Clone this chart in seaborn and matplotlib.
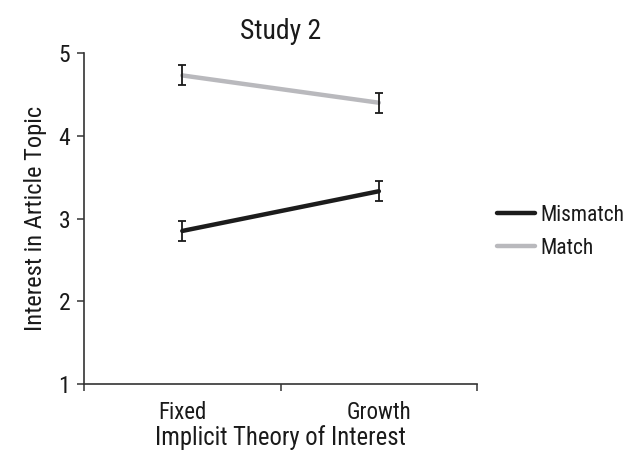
import matplotlib
matplotlib.use("Agg")
import matplotlib.pyplot as plt
import seaborn as sns
import pandas as pd

# values
theories = ["Fixed", "Growth"]
conditions = ["Mismatch", "Match"]
mismatch_means = [2.85, 3.33]
match_means = [4.73, 4.40]
mismatch_se = [0.12, 0.12]
match_se = [0.12, 0.12]

colors = {"Mismatch": "#1c1c1c", "Match": "#b9b9bd"}

df = pd.DataFrame({
    "theory": theories * 2,
    "condition": ["Mismatch"] * 2 + ["Match"] * 2,
    "interest": mismatch_means + match_means,
    "se": mismatch_se + match_se,
})

sns.set_style("ticks")
plt.rcParams["font.family"] = ["Roboto Condensed", "Liberation Sans Narrow", "Roboto", "DejaVu Sans"]
plt.rcParams["text.color"] = "#1a1a1a"
plt.rcParams["axes.labelcolor"] = "#1a1a1a"
plt.rcParams["xtick.labelcolor"] = "#1a1a1a"
plt.rcParams["ytick.labelcolor"] = "#1a1a1a"

fig = plt.figure(figsize=(6.27, 4.58), dpi=100)
ax = fig.add_axes([0.134, 0.1616, 0.627, 0.7225])

sns.lineplot(data=df, x="theory", y="interest", hue="condition",
             hue_order=conditions, palette=colors, linewidth=3.2,
             sort=False, ax=ax, legend=True)

# error bars drawn on the same categorical positions
for cond in conditions:
    sub = df[df["condition"] == cond]
    ax.errorbar(range(len(sub)), sub["interest"], yerr=sub["se"],
                fmt="none", ecolor="#1a1a1a", elinewidth=1.3,
                capsize=3, capthick=1.3, zorder=5)

ax.set_xlim(-0.5, 1.5)
ax.set_ylim(1, 5)
ax.set_yticks([1, 2, 3, 4, 5])
ax.set_xticks([-0.5, 0.5, 1.5])
ax.set_xticklabels([])
ax.set_xticks([0, 1], minor=True)
ax.set_xticklabels(theories, minor=True)
ax.tick_params(axis="x", which="minor", length=0, pad=12, labelsize=16.5)
ax.tick_params(axis="x", which="major", length=5, width=1.2, color="#444444")
ax.tick_params(axis="y", length=5, width=1.2, color="#444444", labelsize=17, pad=5)

for s in ["top", "right"]:
    ax.spines[s].set_visible(False)
for s in ["left", "bottom"]:
    ax.spines[s].set_color("#333333")
    ax.spines[s].set_linewidth(1.2)

ax.set_xlabel("Implicit Theory of Interest", fontsize=17.7, labelpad=1)
ax.set_ylabel("Interest in Article Topic", fontsize=17.6, labelpad=8)
ax.set_title("Study 2", fontsize=20, pad=10)

handles, labels = ax.get_legend_handles_labels()
ax.legend(handles, labels, loc="center left", bbox_to_anchor=(1.0, 0.46),
          frameon=False, fontsize=15.5, handlelength=1.8, handletextpad=0.25,
          labelspacing=0.55)

fig.savefig("out.png", dpi=100)
